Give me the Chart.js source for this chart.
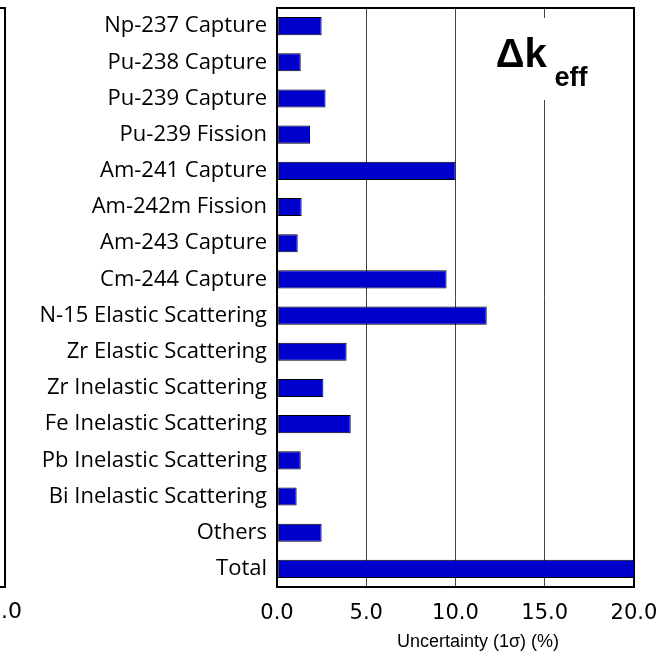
<!DOCTYPE html>
<html>
<head>
<meta charset="utf-8">
<script src="https://cdn.jsdelivr.net/npm/chart.js@4"></script>
<style>
  html, body { margin: 0; padding: 0; background: #fff; }
  #wrap { width: 663px; height: 661px; }
</style>
</head>
<body>
<div id="wrap"><canvas id="sensChart" width="663" height="661"></canvas></div>
<script>
const reactions = [
    "Np-237 Capture", "Pu-238 Capture", "Pu-239 Capture", "Pu-239 Fission",
    "Am-241 Capture", "Am-242m Fission", "Am-243 Capture", "Cm-244 Capture",
    "N-15 Elastic Scattering", "Zr Elastic Scattering", "Zr Inelastic Scattering",
    "Fe Inelastic Scattering", "Pb Inelastic Scattering", "Bi Inelastic Scattering",
    "Others", "Total"
];
const uncertainty = [2.5, 1.33, 2.72, 1.85, 10.0, 1.38, 1.16, 9.5, 11.75, 3.9, 2.6, 4.13, 1.33, 1.1, 2.5, 20.0];
const xTicks = [0, 5, 10, 15, 20];

const labelFont = "'Open Sans', sans-serif";

// frame, the delta-k label and the cut-off neighbour panel
const extras = {
    id: "extras",
    afterDatasetsDraw(chart) {
        const { ctx, chartArea: a, scales: { x } } = chart;
        ctx.save();
        // label box over the grid
        ctx.fillStyle = "#fff";
        ctx.fillRect(x.getPixelForValue(12.0), a.top + 10, 105, 82);
        ctx.fillStyle = "#000";
        ctx.textBaseline = "alphabetic";
        ctx.textAlign = "left";
        ctx.font = "bold 40px 'Liberation Sans', Arial, sans-serif";
        ctx.fillText("\u0394k", x.getPixelForValue(12.25), 67);
        ctx.font = "bold 27px 'Liberation Sans', Arial, sans-serif";
        ctx.fillText("eff", x.getPixelForValue(15.55), 86);

        // plot frame
        ctx.strokeStyle = "#000";
        ctx.lineWidth = 2;
        ctx.strokeRect(a.left, a.top, a.right - a.left, a.bottom - a.top);

        // edge of the neighbouring panel
        ctx.beginPath();
        ctx.moveTo(0, a.top);
        ctx.lineTo(5, a.top);
        ctx.lineTo(5, a.bottom);
        ctx.lineTo(0, a.bottom);
        ctx.stroke();
        ctx.font = "22px 'DejaVu Sans', Verdana, sans-serif";
        ctx.textAlign = "right";
        ctx.textBaseline = "middle";
        ctx.fillText("20.0", 22, 612);

        // axis title, sits right of centre in the original
        ctx.font = "18px 'Liberation Sans', Arial, sans-serif";
        ctx.textAlign = "center";
        ctx.fillText("Uncertainty (1\u03c3) (%)", 478, 642);
        ctx.restore();
    }
};

new Chart(document.getElementById("sensChart"), {
    type: "bar",
    data: {
        labels: reactions,
        datasets: [{
            data: uncertainty,
            backgroundColor: "#0000cc",
            borderColor: "#000",
            borderWidth: 1,
            borderSkipped: false,
            barPercentage: 0.5,
            categoryPercentage: 1.0
        }]
    },
    options: {
        indexAxis: "y",
        responsive: false,
        animation: false,
        layout: { padding: { left: 0, right: 29, top: 8, bottom: 0 } },
        plugins: { legend: { display: false }, tooltip: { enabled: false } },
        scales: {
            x: {
                min: 0,
                max: 20,
                afterBuildTicks: s => { s.ticks = xTicks.map(v => ({ value: v })); },
                afterFit: s => { s.height = 74; s.paddingLeft = 0; s.paddingRight = 0; },
                grid: {
                    drawTicks: false,
                    color: ctx => (ctx.tick && (ctx.tick.value === 0 || ctx.tick.value === 20)) ? "rgba(0,0,0,0)" : "#444",
                    lineWidth: 1
                },
                border: { display: false },
                ticks: {
                    padding: 14,
                    color: "#000",
                    font: { family: "'DejaVu Sans', Verdana, sans-serif", size: 21 },
                    callback: v => v.toFixed(1)
                }
            },
            y: {
                afterFit: s => { s.width = 277; s.paddingTop = 0; s.paddingBottom = 0; },
                grid: { display: false, drawTicks: false },
                border: { display: false },
                ticks: {
                    padding: 10,
                    color: "#000",
                    font: { family: labelFont, size: 22 }
                }
            }
        }
    },
    plugins: [extras]
});
</script>
</body>
</html>
